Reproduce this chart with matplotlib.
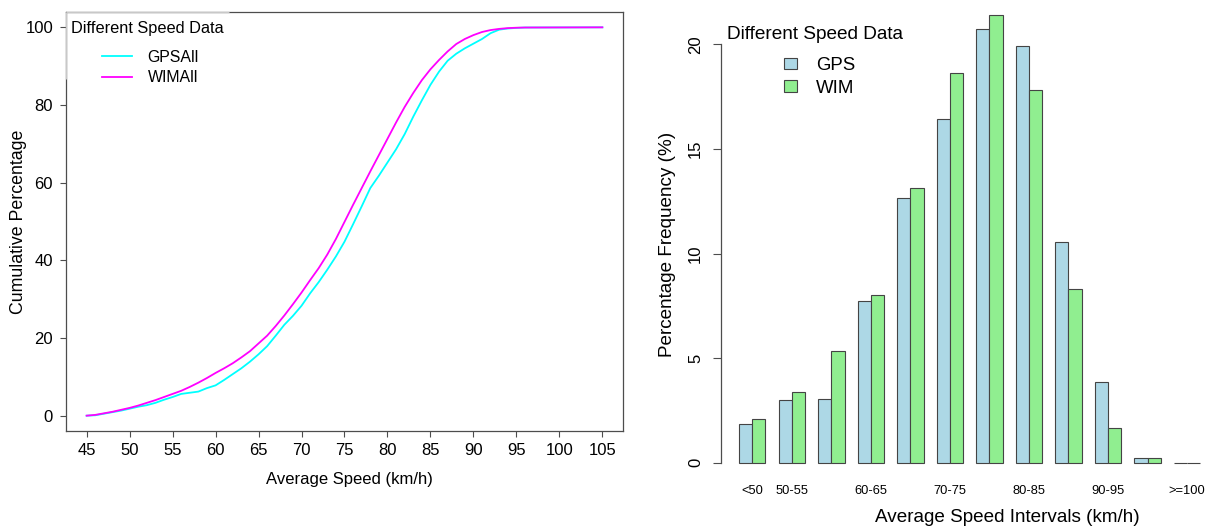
import numpy as np
import matplotlib
matplotlib.use('Agg')
import matplotlib.pyplot as plt
from matplotlib.lines import Line2D
from matplotlib.patches import Patch

plt.rcParams['font.family'] = ['Liberation Sans', 'DejaVu Sans']

# %% data

# cumulative distribution of average speed (km/h -> %)
speed = [45, 46, 47, 48, 49, 50, 51, 52, 53, 54, 55, 56, 57, 58, 59, 60,
         61, 62, 63, 64, 65, 66, 67, 68, 69, 70, 71, 72, 73, 74, 75, 76,
         77, 78, 79, 80, 81, 82, 83, 84, 85, 86, 87, 88, 89, 90, 91, 92,
         93, 94, 95, 96, 105]
gps_cum = [0, 0.1, 0.5, 0.9, 1.3, 1.8, 2.3, 2.7, 3.3, 4.1, 4.8, 5.6, 5.9, 6.2, 7.1, 7.8,
           9.2, 10.7, 12.2, 13.9, 15.8, 17.9, 20.6, 23.4, 25.7, 28.3, 31.5, 34.4, 37.6, 41.0, 44.8, 49.3,
           53.9, 58.6, 61.8, 65.2, 68.6, 72.5, 77.0, 81.2, 85.2, 88.6, 91.4, 93.2, 94.6, 95.8, 97.0, 98.5,
           99.4, 99.7, 99.85, 99.95, 100]
wim_cum = [0, 0.2, 0.6, 1.0, 1.5, 2.0, 2.6, 3.3, 4.0, 4.8, 5.6, 6.4, 7.4, 8.5, 9.7, 11.0,
           12.2, 13.5, 15.0, 16.6, 18.6, 20.6, 23.1, 25.8, 28.7, 31.7, 34.9, 38.0, 41.5, 45.5, 49.9, 54.3,
           58.6, 62.9, 67.1, 71.3, 75.5, 79.5, 83.1, 86.4, 89.2, 91.6, 93.8, 95.7, 97.0, 98.0, 98.8, 99.3,
           99.6, 99.8, 99.9, 99.95, 100]
speed_ticks = list(range(45, 110, 5))

# percentage frequency per speed interval
intervals = ['<50', '50-55', '55-60', '60-65', '65-70', '70-75',
             '75-80', '80-85', '85-90', '90-95', '95-100', '>=100']
gps_freq = [1.85, 2.98, 3.06, 7.75, 12.64, 16.45, 20.71, 19.92, 10.55, 3.86, 0.24, 0.0]
wim_freq = [2.09, 3.39, 5.33, 8.04, 13.11, 18.61, 21.39, 17.84, 8.31, 1.67, 0.21, 0.0]
shown_labels = ['<50', '50-55', '60-65', '70-75', '80-85', '90-95', '>=100']
freq_ticks = [0, 5, 10, 15, 20]

W, H = 1208, 531
fig = plt.figure(figsize=(W / 100, H / 100), dpi=100)

def px_rect(x0, y0, x1, y1):
    # pixel box (top-left origin) -> figure fraction
    return (x0 / W, 1 - y1 / H, (x1 - x0) / W, (y1 - y0) / H)

axis_col = '#4d4d4d'

# %% cumulative curves

ax1 = fig.add_axes(px_rect(66, 11.8, 623, 431.2))
ax1.plot(speed, gps_cum, color='#00ffff', lw=1.3)
ax1.plot(speed, wim_cum, color='#ff00ff', lw=1.3)
ax1.set_xlim(42.6, 107.4)
ax1.set_ylim(-4, 104)
ax1.set_xticks(speed_ticks)
ax1.set_yticks([0, 20, 40, 60, 80, 100])
for s in ax1.spines.values():
    s.set_color(axis_col)
    s.set_linewidth(0.9)
ax1.tick_params(colors=axis_col, labelcolor='black', labelsize=12, length=4.3, width=0.8)
ax1.tick_params(axis='x', pad=4)
ax1.tick_params(axis='y', pad=5)
ax1.set_xlabel('Average Speed (km/h)', fontsize=12, va='center')
ax1.set_ylabel('Cumulative Percentage', fontsize=12.8, va='center')
ax1.xaxis.set_label_coords((349.8 - 66) / 557, -(479.7 - 431.2) / 419.4)
ax1.yaxis.set_label_coords((18.6 - 66) / 557, 0.5)

# legend block sits on the top-left corner of the box, softening the frame there
ax1.plot([0, 0.292], [1, 1], transform=ax1.transAxes, color='#c8c8c8', lw=1.0,
         clip_on=False, zorder=3, solid_capstyle='butt')
ax1.plot([0, 0], [1, 0.84], transform=ax1.transAxes, color='#c8c8c8', lw=1.0,
         clip_on=False, zorder=3, solid_capstyle='butt')

fig.text(70.7 / W, 1 - 28.3 / H, 'Different Speed Data', fontsize=11.8, ha='left', va='center')
fig.legend(handles=[Line2D([], [], color='#00ffff', lw=1.3, label='GPSAll'),
                    Line2D([], [], color='#ff00ff', lw=1.3, label='WIMAll')],
           loc='upper left', bbox_to_anchor=(101.7 / W, 1 - 49.5 / H), frameon=False,
           fontsize=11.4, handlelength=1.9, handletextpad=1.0, labelspacing=0.35,
           borderpad=0, borderaxespad=0)

# %% frequency bars

ax2 = fig.add_axes(px_rect(720.7, 2.5, W, 462.7))
idx = np.arange(len(intervals))
centers = 2 + 3 * idx
edge = '#444444'
ax2.bar(centers - 0.5, gps_freq, width=1, color='#add8e6', edgecolor=edge, lw=0.8, clip_on=False)
ax2.bar(centers + 0.5, wim_freq, width=1, color='#90ee90', edgecolor=edge, lw=0.8, clip_on=False)
ax2.set_xlim(-0.4, 36.59)
ax2.set_ylim(0, 22)
for side in ['top', 'right', 'bottom']:
    ax2.spines[side].set_visible(False)
ax2.spines['left'].set_bounds(0, 20)
ax2.spines['left'].set_color(axis_col)
ax2.spines['left'].set_linewidth(0.9)
ax2.set_yticks(freq_ticks)
ax2.tick_params(axis='y', colors=axis_col, labelcolor='black', labelsize=12,
                length=5.8, width=0.8, pad=7, labelrotation=90)
for t in ax2.get_yticklabels():
    t.set_va('center')
shown_idx = [intervals.index(lab) for lab in shown_labels]
ax2.set_xticks(centers[shown_idx])
ax2.set_xticklabels(shown_labels)
ax2.tick_params(axis='x', length=0, labelsize=9.3, pad=16)
ax2.set_xlabel('Average Speed Intervals (km/h)', fontsize=13.6, va='center')
ax2.set_ylabel('Percentage Frequency (%)', fontsize=13.6, va='center')
ax2.xaxis.set_label_coords((1007 - 720.7) / (W - 720.7), -(518 - 462.7) / (462.7 - 2.5))
ax2.yaxis.set_label_coords((667.2 - 720.7) / (W - 720.7), (462.7 - 244) / (462.7 - 2.5))

fig.text(726.7 / W, 1 - 34.3 / H, 'Different Speed Data', fontsize=13.7, ha='left', va='center')
fig.legend(handles=[Patch(facecolor='#add8e6', edgecolor=edge, lw=0.8, label='GPS'),
                    Patch(facecolor='#90ee90', edgecolor=edge, lw=0.8, label='WIM')],
           loc='upper left', bbox_to_anchor=(784 / W, 1 - 57 / H), frameon=False,
           fontsize=13.4, handlelength=0.7, handleheight=0.57, handletextpad=1.03,
           labelspacing=0.3, borderpad=0, borderaxespad=0)

fig.savefig('out.png', dpi=100)
